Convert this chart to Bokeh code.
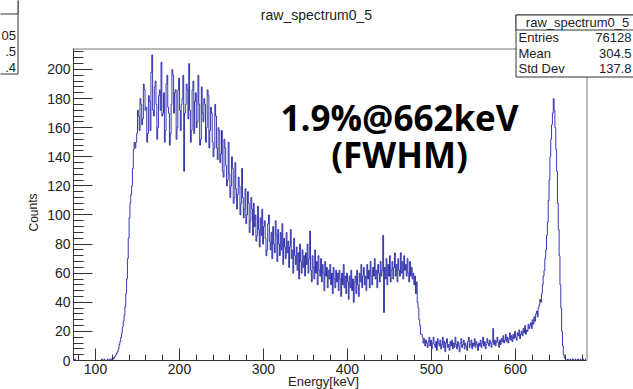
from bokeh.plotting import figure
from bokeh.models import Label, SingleIntervalTicker, GridBox, Range1d
from bokeh.embed import file_html
from bokeh.resources import INLINE

# ---------------- data ----------------
bin_start = 74.0      # keV, left edge of first bin
bin_width = 1.0       # keV
counts = [
    0, 1, 0, 0, 0, 0, 0, 0, 0, 0,                       # 74-83
    0, 0, 0, 0, 0, 0, 0, 0, 0, 0,                       # 84-93
    0, 0, 0, 0, 0, 0, 0, 0, 0, 0,                       # 94-103
    0, 0, 0, 1, 0, 0, 1, 0, 0, 0,                       # 104-113
    1, 0, 0, 1,                                         # 114-117
    1, 0, 2, 1, 2, 3, 4, 5, 6, 8,                       # 118-127
    11, 13, 16, 19, 23, 27, 31, 37, 46, 56,             # 128-137
    70, 84, 98, 108, 114, 120, 132, 145, 150, 146,      # 138-147
    150, 156, 172, 168, 158, 180, 176, 162, 166, 190,   # 148-157
    186, 172, 174, 150, 156, 182, 178, 158, 198, 210,   # 158-167
    172, 168, 188, 192, 176, 152, 160, 182, 186, 172,   # 168-177
    205, 168, 170, 184, 150, 158, 190, 196, 174, 170,   # 178-187
    148, 156, 176, 200, 196, 170, 184, 186, 152, 160,   # 188-197
    186, 194, 172, 158, 176, 180, 196, 130, 170, 176,   # 198-207
    190, 186, 166, 204, 172, 150, 158, 186, 192, 156,   # 208-217
    178, 184, 160, 164, 196, 176, 148, 152, 188, 170,   # 218-227
    164, 180, 176, 150, 160, 186, 182, 146, 158, 174,   # 228-237
    170, 150, 140, 146, 176, 168, 146, 138, 160, 158,   # 238-247
    136, 142, 158, 130, 126, 152, 146, 134, 120, 124,   # 248-257
    150, 128, 112, 120, 140, 132, 108, 112, 136, 118,   # 258-267
    104, 114, 126, 120, 100, 108, 132, 112, 98, 104,    # 268-277
    118, 94, 100, 116, 108, 88, 96, 112, 104, 86,       # 278-287
    108, 92, 100, 82, 86, 106, 90, 78, 98, 86,          # 288-297
    104, 80, 92, 96, 84, 72, 76, 94, 100, 82,           # 298-307
    76, 88, 70, 92, 80, 74, 96, 86, 68, 90,             # 308-317
    80, 72, 88, 76, 94, 66, 84, 78, 70, 88,             # 318-327
    74, 82, 64, 78, 90, 70, 76, 60, 84, 72,             # 328-337
    66, 78, 62, 74, 56, 80, 68, 60, 76, 64,             # 338-347
    72, 58, 74, 66, 80, 60, 70, 89, 62, 54,             # 348-357
    72, 64, 56, 76, 60, 68, 52, 72, 62, 58,             # 358-367
    70, 54, 66, 60, 48, 68, 58, 64, 50, 62,             # 368-377
    56, 66, 52, 60, 46, 64, 56, 50, 62, 54,             # 378-387
    60, 48, 62, 56, 44, 60, 52, 66, 50, 58,             # 388-397
    46, 60, 54, 42, 58, 50, 62, 48, 56, 40,             # 398-407
    54, 58, 46, 62, 52, 44, 60, 54, 66, 50,             # 408-417
    58, 64, 52, 58, 48, 66, 56, 62, 50, 68,             # 418-427
    58, 52, 64, 58, 70, 56, 62, 50, 66, 60,             # 428-437
    54, 68, 58, 62, 86, 33, 64, 56, 70, 52,             # 438-447
    66, 58, 72, 54, 62, 68, 56, 64, 74, 58,             # 448-457
    66, 54, 70, 62, 58, 74, 60, 68, 56, 72,             # 458-467
    62, 66, 58, 70, 60, 54, 68, 58, 64, 56,             # 468-477
    60, 52, 58, 46, 54, 40, 36, 28, 24, 18,             # 478-487
    18, 16, 12, 15, 10, 14, 12, 9, 13, 16,              # 488-497
    10, 14, 8, 12, 16, 11, 9, 13, 7, 15,                # 498-507
    12, 10, 14, 8, 11, 16, 9, 13, 6, 12,                # 508-517
    15, 9, 11, 7, 13, 10, 14, 8, 12, 9,                 # 518-527
    16, 11, 8, 13, 10, 6, 12, 15, 9, 11,                # 528-537
    14, 8, 12, 10, 7, 13, 16, 9, 11, 14,                # 538-547
    8, 12, 10, 15, 9, 13, 11, 7, 12, 10,                # 548-557
    14, 9, 12, 16, 10, 13, 8, 11, 15, 12,               # 558-567
    10, 14, 12, 9, 13, 22, 11, 14, 10, 13,              # 568-577
    16, 12, 9, 14, 11, 15, 13, 17, 12, 14,              # 578-587
    18, 13, 16, 12, 15, 19, 14, 17, 13, 18,             # 588-597
    15, 20, 16, 14, 19, 17, 21, 15, 18, 20,             # 598-607
    17, 22, 19, 24, 18, 21, 20, 25, 22, 24,             # 608-617
    26, 22, 28, 25, 30, 27, 32, 34, 30, 36,             # 618-627
    38, 42, 40, 46, 52, 58, 62, 70, 76, 86,             # 628-637
    95, 110, 124, 140, 152, 162, 170, 180, 172, 160,    # 638-647
    145, 130, 108, 90, 72, 52, 36, 20, 10, 4,           # 648-657
    2, 1, 0, 0, 1, 0, 0, 1, 0, 0,                       # 658-667
    1, 0, 0, 1, 0, 0, 1, 0, 0, 1,                       # 668-677
    0, 0, 1, 0, 0, 1,                                   # 678-683
]
x_ticks_interval = 100
y_ticks_interval = 20
x_range = (73.8, 684.6)
y_range = (0, 214.4)

title_text = "raw_spectrum0_5"
stats_labels = ["Entries", "Mean", "Std Dev"]
stats_values = ["76128", "304.5", "137.8"]
left_stats_values = ["05", ".5", ".4"]
note_line1 = "1.9%@662keV"
note_line2 = "(FWHM)"
xlabel = "Energy[keV]"
ylabel = "Counts"

# ---------------- geometry (page pixels) ----------------
W, H = 633, 389
FL, FR, FT, FB = 73, 586, 48, 360
FONT = "Liberation Sans"
TXT = "#222222"

# ---------- background sheet: titles, stats boxes, frame top/right ----------
bg = figure(width=W, height=H, output_backend="svg", toolbar_location=None,
            x_range=Range1d(0, W), y_range=Range1d(H, 0),
            x_axis_type=None, y_axis_type=None,
            min_border=0, min_border_left=0, min_border_right=0,
            min_border_top=0, min_border_bottom=0)
bg.frame_align = False
bg.title = None
bg.xgrid.visible = False
bg.ygrid.visible = False
bg.outline_line_color = None
bg.background_fill_color = "white"
bg.border_fill_color = "white"

# frame top and right edges (the stats box is drawn over them)
bg.segment(x0=[FL, FR + 0.5], y0=[FT + 0.5, FT], x1=[FR + 1, FR + 0.5],
           y1=[FT + 0.5, FB], line_color="#777777", line_width=1)


def box(l, r, t, b):
    bg.quad(left=[l], right=[r], top=[t], bottom=[b], fill_color="white",
            line_color="#333333", line_width=1)


def label(px, py, text, size="13px", align="center", baseline="middle",
          angle=0.0, font=FONT, style="normal", color=TXT):
    bg.add_layout(Label(x=px, y=py, text=text, text_font=font,
                        text_font_style=style, text_font_size=size,
                        text_align=align, text_baseline=baseline,
                        angle=angle, text_color=color))


box(515.5, 660, 14.5, 76.5)
box(515.5, 660, 14.5, 29.5)
label(577, 22, title_text, size="13px")
for i, (lab, val) in enumerate(zip(stats_labels, stats_values)):
    yy = 37 + i * 15.5
    label(518, yy, lab, align="left")
    label(631, yy, val, align="right")

box(-40, 17.5, -10, 73.5)
box(-40, 17.5, -10, 13.5)
for i, val in enumerate(left_stats_values):
    label(15.5, 35 + i * 16, val, align="right")

label(316, 14, title_text, size="14px")
label(323, 381, xlabel, size="13px")
label(33, 212, ylabel, size="12px", angle=1.5708)

label(399, 117, note_line1, size="35px", baseline="alphabetic",
      font="Open Sans", style="bold", color="#000000")
label(399, 154, note_line2, size="35px", baseline="alphabetic",
      font="Open Sans", style="bold", color="#000000")

# ---------- main histogram plot (transparent, drawn on top) ----------
p = figure(width=W, height=H, output_backend="svg", toolbar_location=None,
           x_range=x_range, y_range=y_range,
           min_border_left=FL, min_border_right=W - FR,
           min_border_top=FT, min_border_bottom=H - FB)
p.frame_align = False
p.title = None
p.background_fill_alpha = 0
p.border_fill_alpha = 0
p.xgrid.visible = False
p.ygrid.visible = False
p.outline_line_color = None

edges = [bin_start + i * bin_width for i in range(len(counts) + 1)]
ys = counts + [counts[-1]]
p.step(x=edges, y=ys, mode="after", line_color="#1616a2", line_width=0.85)

for ax, interval, tin, tmin in ((p.xaxis[0], x_ticks_interval, 12, 6),
                               (p.yaxis[0], y_ticks_interval, 19, 10)):
    ax.ticker = SingleIntervalTicker(interval=interval, num_minor_ticks=5)
    ax.major_tick_in = tin
    ax.major_tick_out = 0
    ax.minor_tick_in = tmin
    ax.minor_tick_out = 0
    ax.axis_line_color = "#333333"
    ax.major_tick_line_color = "#333333"
    ax.minor_tick_line_color = "#333333"
    ax.major_label_text_font = FONT
    ax.major_label_text_font_size = "14px"
    ax.major_label_text_color = TXT
    ax.major_label_standoff = 3

layout = GridBox(children=[(bg, 0, 0), (p, 0, 0)])
open("out.html", "w").write(file_html(layout, INLINE))
